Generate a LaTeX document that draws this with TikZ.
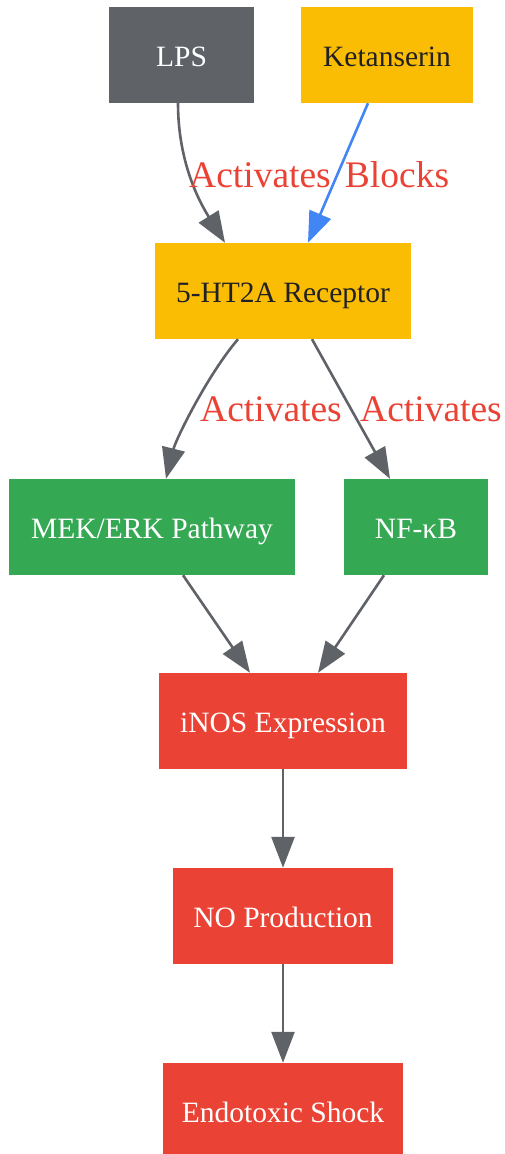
\documentclass[tikz,border=0pt]{standalone}
\usepackage{fontspec}
\setmainfont{Liberation Serif}
\usetikzlibrary{arrows.meta}
\definecolor{cgray}{HTML}{5F6368}
\definecolor{cyellow}{HTML}{FBBC04}
\definecolor{cgreen}{HTML}{34A853}
\definecolor{cred}{HTML}{EA4335}
\definecolor{cblue}{HTML}{4285F4}
\definecolor{cdark}{HTML}{202124}
\tikzset{
  box/.style={rectangle, inner sep=0pt, minimum height=96pt, text height=22pt, text depth=0pt, font=\fontsize{29.5}{34}\selectfont},
  graybox/.style={box, fill=cgray, text=white},
  yellowbox/.style={box, fill=cyellow, text=cdark},
  greenbox/.style={box, fill=cgreen, text=white},
  redbox/.style={box, fill=cred, text=white},
  conn/.style={draw=cgray, line width=2.6pt, -{Triangle[length=31pt,width=23pt]}},
  blockconn/.style={draw=cblue, line width=2.6pt, -{Triangle[length=31pt,width=23pt]}},
  elabel/.style={text=cred, inner sep=0pt, font=\fontsize{37.5}{42}\selectfont}
}
\begin{document}
\begin{tikzpicture}[x=1pt,y=-1pt]
\useasboundingbox (0,0) rectangle (505,1154);
\node[graybox, minimum width=145pt] (lps) at (181.5,55) {LPS};
\node[yellowbox, minimum width=172pt] (ket) at (387,55) {Ketanserin};
\node[yellowbox, minimum width=256pt] (rec) at (283,291) {5-HT2A Receptor};
\node[greenbox, minimum width=286pt] (mek) at (152,527) {MEK/ERK Pathway};
\node[greenbox, minimum width=144pt] (nfkb) at (416,527) {NF-κB};
\node[redbox, minimum width=248pt] (inos) at (283,721) {iNOS Expression};
\node[redbox, minimum width=220pt] (no) at (283,916) {NO Production};
\node[redbox, minimum width=240pt] (shock) at (283,1111) {Endotoxic Shock};

\draw[conn] ([xshift=-3.5pt]lps.south) .. controls +(0,60) and +(-25,-40) .. ([xshift=-58pt]rec.north);
\draw[blockconn] ([xshift=-19pt]ket.south) -- ([xshift=25pt]rec.north);
\draw[conn] ([xshift=-45pt]rec.south) .. controls +(-30,35) and +(10,-40) .. ([xshift=14pt]mek.north);
\draw[conn] ([xshift=29pt]rec.south) -- ([xshift=-26pt]nfkb.north);
\draw[conn] ([xshift=31pt]mek.south) -- ([xshift=-33pt]inos.north);
\draw[conn] ([xshift=-32pt]nfkb.south) -- ([xshift=35pt]inos.north);
\draw[conn] (inos.south) -- (no.north);
\draw[conn] (no.south) -- (shock.north);

\node[elabel] (l1) at (260,175) {Activates};
\node[elabel] (l2) at (397,175) {Blocks};
\node[elabel] (l3) at (271,409) {Activates};
\node[elabel] (l4) at (431,409) {Activates};
\end{tikzpicture}
\end{document}
